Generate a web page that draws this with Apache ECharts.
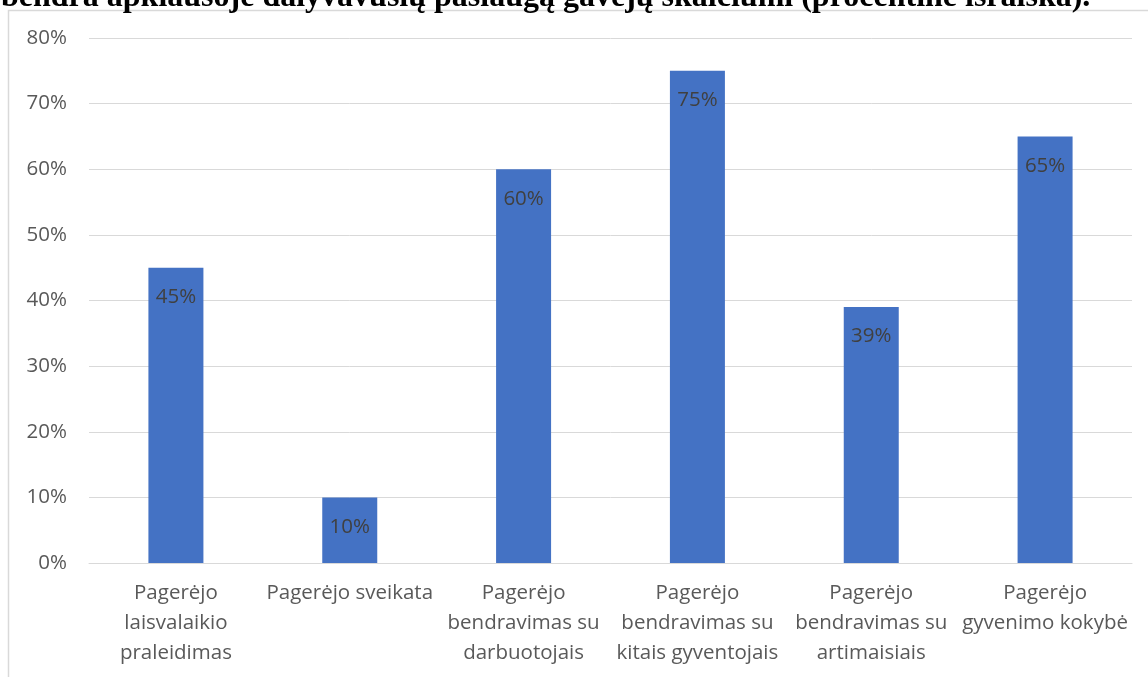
<!DOCTYPE html>
<html>
<head>
<meta charset="utf-8">
<script src="https://cdn.jsdelivr.net/npm/echarts@6/dist/echarts.min.js"></script>
<style>html,body{margin:0;padding:0;background:#fff;}#c{width:1148px;height:677px;}</style>
</head>
<body>
<div id="c"></div>
<script>
const categories = [
  "Pagerėjo\nlaisvalaikio\npraleidimas",
  "Pagerėjo sveikata",
  "Pagerėjo\nbendravimas su\ndarbuotojais",
  "Pagerėjo\nbendravimas su\nkitais gyventojais",
  "Pagerėjo\nbendravimas su\nartimaisiais",
  "Pagerėjo\ngyvenimo kokybė"
];
const values = [45, 10, 60, 75, 39, 65];
const titleText = "bendra apklausoje dalyvavusių paslaugą gavėjų skaičiumi (procentinė išraiška).";

const chart = echarts.init(document.getElementById('c'), null, {renderer: 'canvas'});
chart.setOption({
  animation: false,
  backgroundColor: '#fff',
  graphic: [
    {type: 'rect', shape: {x: 8.5, y: 10.5, width: 1200, height: 700}, style: {fill: 'none', stroke: '#d9d9d9', lineWidth: 1.5}, z: 0},
    {type: 'text', x: 1, y: 14, style: {text: titleText, font: 'bold 32px "Liberation Serif"', fill: '#000', textVerticalAlign: 'bottom'}, z: 10}
  ],
  grid: {left: 89, right: 16, top: 38, bottom: 114, containLabel: false},
  xAxis: {
    type: 'category',
    data: categories,
    axisLine: {show: true, lineStyle: {color: '#d9d9d9', width: 1}},
    axisTick: {show: false},
    axisLabel: {color: '#595959', fontFamily: 'Open Sans', fontSize: 20.5, lineHeight: 30, margin: 15, interval: 0}
  },
  yAxis: {
    type: 'value',
    min: 0, max: 80, interval: 10,
    axisLine: {show: false},
    axisTick: {show: false},
    splitLine: {lineStyle: {color: '#d9d9d9', width: 1}},
    axisLabel: {color: '#595959', fontFamily: 'Open Sans', fontSize: 20.5, margin: 22, formatter: '{value}%'}
  },
  series: [{
    type: 'bar',
    data: values,
    barWidth: 55,
    itemStyle: {color: '#4472C4'},
    label: {show: true, position: 'insideTop', distance: 19, color: '#404040', fontFamily: 'Open Sans', fontSize: 20.5, formatter: '{c}%'}
  }]
});
</script>
</body>
</html>
